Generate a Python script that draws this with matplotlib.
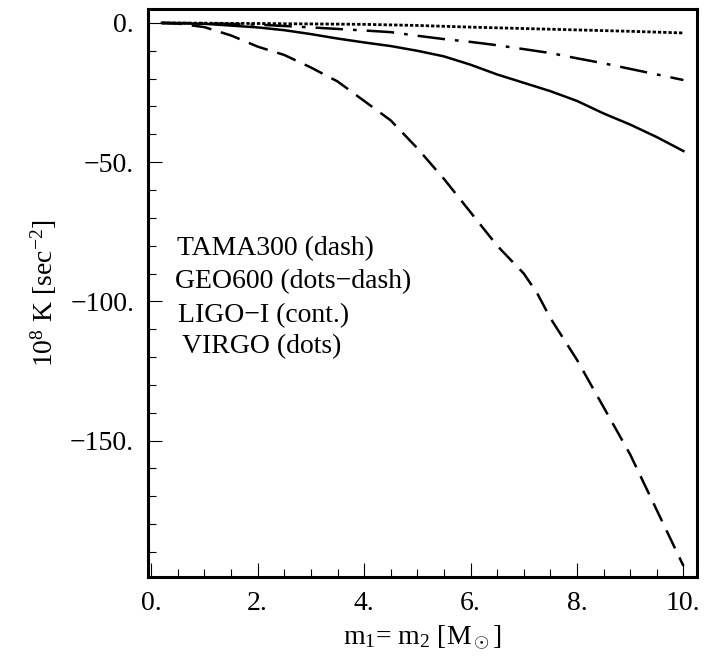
import matplotlib.pyplot as plt
from matplotlib.ticker import MultipleLocator, FuncFormatter

plt.rcParams['font.family'] = ['Liberation Serif', 'DejaVu Serif']
plt.rcParams['mathtext.fontset'] = 'custom'
plt.rcParams['mathtext.rm'] = 'Liberation Serif'
plt.rcParams['mathtext.it'] = 'Liberation Serif:italic'

# TAMA300 (dash)
tama_x = [0.2, 0.5, 1.0, 1.5, 2.0, 2.5, 3.0, 3.5, 4.0, 4.5, 5.0, 5.5, 6.0, 6.5,
          7.0, 7.25, 7.5, 8.0, 8.5, 9.0, 9.25, 9.5, 10.0]
tama_y = [0.0, -0.2, -1.5, -4.5, -8.5, -11.5, -16, -21, -28, -35, -45, -56, -68, -80,
          -90, -97, -106, -121, -138, -155, -165, -175, -195]
# GEO600 (dots-dash)
geo_x = [0.2, 1.0, 2.0, 3.0, 4.0, 4.5, 5.0, 5.5, 6.0, 6.5, 7.0, 7.5, 8.0, 8.5, 9.0, 9.5, 10.0]
geo_y = [0.0, -0.1, -0.6, -1.6, -2.7, -3.3, -4.6, -5.8, -6.8, -8.0, -9.4, -10.8, -12.7,
         -14.5, -16.5, -18.5, -20.5]
# LIGO-I (cont.)
ligo_x = [0.2, 1.0, 2.0, 2.5, 3.0, 3.5, 4.0, 4.5, 5.0, 5.5, 6.0, 6.5, 7.0, 7.5, 8.0, 8.5,
          9.0, 9.5, 10.0]
ligo_y = [0.0, -0.3, -1.6, -2.6, -4.0, -5.6, -7.0, -8.3, -10, -12, -15, -18.5, -21.5,
          -24.5, -28, -32.5, -36.5, -41, -46]
# VIRGO (dots)
virgo_x = [0.2, 2.0, 4.0, 5.0, 6.0, 7.0, 8.0, 9.0, 10.0]
virgo_y = [0.0, -0.2, -0.5, -0.9, -1.5, -2.0, -2.5, -3.0, -3.6]

labels = ['TAMA300 (dash)', 'GEO600 (dots\u2212dash)', 'LIGO\u2212I (cont.)', 'VIRGO (dots)']

fig = plt.figure(figsize=(7.05, 6.69), dpi=100)
ax = fig.add_axes([0.21, 0.1375, 0.779, 0.849])

ax.plot(tama_x, tama_y, color='black', lw=1.8, linestyle=(0, (8, 4)))
ax.plot(geo_x, geo_y, color='black', lw=1.8, linestyle=(0, (11, 4, 1.5, 4)))
ax.plot(ligo_x, ligo_y, color='black', lw=1.8)
ax.plot(virgo_x, virgo_y, color='black', lw=2.0, linestyle=(0, (1.2, 0.7)))

ax.set_xlim(-0.06, 10.26)
ax.set_ylim(-199, 5)

ax.xaxis.set_major_locator(MultipleLocator(2))
ax.xaxis.set_minor_locator(MultipleLocator(0.5))
ax.yaxis.set_major_locator(MultipleLocator(50))
ax.yaxis.set_minor_locator(MultipleLocator(10))

fmt = FuncFormatter(lambda v, p: ('%d.' % round(v)).replace('-', '\u2212'))
ax.xaxis.set_major_formatter(fmt)
ax.yaxis.set_major_formatter(fmt)

ax.tick_params(which='both', direction='in', labelsize=20, width=0.8)
ax.tick_params(which='major', length=10, pad=10)
ax.tick_params(which='minor', length=6)
for s in ax.spines.values():
    s.set_linewidth(2.2)

text_y = [-83.5, -95.3, -107.5, -118.6]
text_x = [0.49, 0.45, 0.51, 0.58]
for tx, ty, lab in zip(text_x, text_y, labels):
    ax.text(tx, ty, lab, fontsize=20, ha='left', va='baseline')

ax.set_xlabel(r'm$_1$= m$_2$ [M$_\odot$]', fontsize=20, labelpad=6)
ax.set_ylabel(r'10$^8$ K [sec$^{-2}$]', fontsize=20, labelpad=8)

fig.savefig('out.png', dpi=100)
